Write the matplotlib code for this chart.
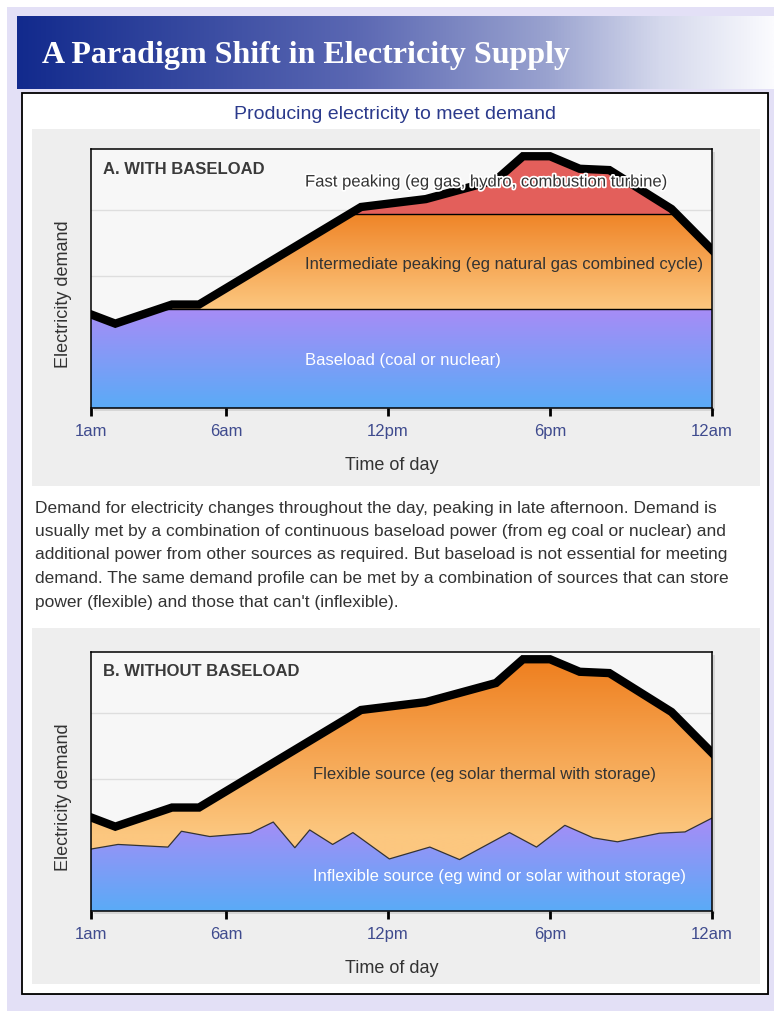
import numpy as np
import matplotlib
matplotlib.use("Agg")
import matplotlib.pyplot as plt
import matplotlib.patheffects as pe
from matplotlib.colors import LinearSegmentedColormap
from matplotlib.patches import Rectangle

plt.rcParams["font.family"] = ["Liberation Sans", "DejaVu Sans"]

W, H = 774, 1012

# ── data (hours: 1 = 1am ... 24 = midnight) ─────────────────────────────────
hours = [1, 1.9, 4, 5, 11, 13.4, 16, 17, 18, 19.1, 20.2, 22.5, 24]
demand = [1.42, 1.28, 1.57, 1.57, 3.05, 3.17, 3.46, 3.82, 3.82, 3.63, 3.61, 3.02, 2.40]
baseload_level = 1.5
intermediate_cap = 2.95

inflex_hours = [1.0, 2.0, 3.85, 4.35, 5.4, 6.9, 7.75, 8.55, 9.1, 9.95, 10.7,
                12.05, 13.55, 14.65, 16.5, 17.5, 18.55, 19.6, 20.5, 22.05, 23.0, 24.0]
inflexible = [0.94, 1.01, 0.97, 1.21, 1.13, 1.18, 1.35, 0.96, 1.23, 1.01, 1.19,
              0.79, 0.97, 0.78, 1.19, 0.97, 1.30, 1.11, 1.05, 1.18, 1.20, 1.41]

tick_hours = [1, 6, 12, 18, 24]
tick_labels = ["1am", "6am", "12pm", "6pm", "12am"]

paragraph = [
    "Demand for electricity changes throughout the day, peaking in late afternoon. Demand is",
    "usually met by a combination of continuous baseload power (from eg coal or nuclear) and",
    "additional power from other sources as required. But baseload is not essential for meeting",
    "demand. The same demand profile can be met by a combination of sources that can store",
    "power (flexible) and those that can't (inflexible).",
]

TEXT = "#333333"
TICKC = "#3f4b8e"
BLUE_TOP, BLUE_BOT = "#a78cf7", "#5aabf6"
ORANGE_TOP, ORANGE_BOT = "#ef8427", "#fcc77f"
RED = "#e35f5b"


def rect(l, t, r, b):
    return [l / W, 1 - b / H, (r - l) / W, (b - t) / H]


def gradient(ax, y0, y1, colors, clip, z):
    # colors: list of (position, colour) from bottom (0) to top (1)
    cmap = LinearSegmentedColormap.from_list("g", colors)
    grad = np.linspace(0, 1, 256).reshape(-1, 1)
    im = ax.imshow(grad, extent=[1, 24, y0, y1], origin="lower", cmap=cmap,
                   aspect="auto", interpolation="bilinear", zorder=z)
    im.set_clip_path(clip, ax.transData)
    return im


fig = plt.figure(figsize=(W / 100, H / 100), dpi=100)
fig.patch.set_facecolor("white")

# ── page decoration in pixel coordinates ────────────────────────────────────
bg = fig.add_axes([0, 0, 1, 1], zorder=-10)
bg.set_xlim(0, W)
bg.set_ylim(H, 0)
bg.axis("off")
bg.add_patch(Rectangle((7, 8), W - 7, H - 8, facecolor="#e3e0f6", edgecolor="none"))

banner_cmap = LinearSegmentedColormap.from_list(
    "banner", [(0, "#122a8d"), (0.45, "#5b68b3"), (0.7, "#99a2cf"),
               (0.85, "#d4d8ec"), (1, "#fbfbfe")])
bg.imshow(np.linspace(0, 1, 512).reshape(1, -1), extent=[17, W, 90, 17],
          cmap=banner_cmap, aspect="auto", zorder=1)
bg.text(42, 63, "A Paradigm Shift in Electricity Supply", color="white",
        fontsize=23, fontweight="bold", family="Liberation Serif", va="baseline", zorder=2)

bg.add_patch(Rectangle((23, 95), 746, 901, facecolor="#999999", edgecolor="none", zorder=1))
bg.add_patch(Rectangle((22, 94), 746, 901, facecolor="white", edgecolor="black",
                       linewidth=1.3, zorder=2))
bg.text(395, 114, "Producing electricity to meet demand", color="#2b3a8c",
        fontsize=14, ha="center", va="center", zorder=3)
for top, bot in [(130, 487), (629, 985)]:
    bg.add_patch(Rectangle((32, top), 728, bot - top, facecolor="#eeeeee",
                           edgecolor="none", zorder=3))
for i, line in enumerate(paragraph):
    bg.text(35, 508 + i * 23.5, line, color=TEXT, fontsize=12.5, va="center", zorder=3)

# axes drop shadows
for top in (150, 653):
    bg.add_patch(Rectangle((94, top + 3), 621, 259, facecolor="#d6d6d6",
                           edgecolor="none", zorder=4))


def setup_axes(top):
    ax = fig.add_axes(rect(91, top, 712, top + 259))
    ax.set_facecolor("#f7f7f7")
    ax.set_yticks([1, 2, 3])
    ax.yaxis.grid(True, color="#dedede", linewidth=1)
    ax.set_axisbelow(True)
    ax.tick_params(axis="y", length=0, labelleft=False)
    ax.set_xticks(tick_hours)
    ax.set_xticklabels(tick_labels)
    ax.tick_params(axis="x", length=6, width=2, color="black", pad=5,
                   labelsize=12, labelcolor=TICKC)
    for s in ax.spines.values():
        s.set_linewidth(1.1)
        s.set_zorder(6)
    return ax


# ── A. with baseload ────────────────────────────────────────────────────────
axA = setup_axes(150)
polyA = axA.fill_between(hours, 0, demand, facecolor="none", edgecolor="none")
clipA = polyA.get_paths()[0]
gradient(axA, 0, baseload_level, [BLUE_BOT, BLUE_TOP], clipA, 1)
gradient(axA, baseload_level, intermediate_cap, [ORANGE_BOT, ORANGE_TOP], clipA, 1)
dem = np.array(demand)
axA.fill_between(hours, intermediate_cap, dem, where=dem > intermediate_cap,
                 interpolate=True, color=RED, linewidth=0, zorder=2)
for lvl in (baseload_level, intermediate_cap):
    ln, = axA.plot([1, 24], [lvl, lvl], color="black", linewidth=1, zorder=3)
    ln.set_clip_path(clipA, axA.transData)
axA.plot(hours, demand, color="black", linewidth=6, solid_joinstyle="miter", zorder=5)
axA.set_xlim(1, 24)
axA.set_ylim(0, 3.93)

# ── B. without baseload ─────────────────────────────────────────────────────
axB = setup_axes(653)
polyB = axB.fill_between(hours, 0, demand, facecolor="none", edgecolor="none")
clipB = polyB.get_paths()[0]
gradient(axB, 0, 3.9, [(0, ORANGE_BOT), (0.3, ORANGE_BOT), (1, "#ee7c1b")], clipB, 1)
polyI = axB.fill_between(inflex_hours, 0, inflexible, facecolor="none", edgecolor="none")
clipI = polyI.get_paths()[0]
gradient(axB, 0, 1.4, [BLUE_BOT, BLUE_TOP], clipI, 2)
axB.plot(inflex_hours, inflexible, color="#333333", linewidth=0.9, zorder=3)
axB.plot(hours, demand, color="black", linewidth=6, solid_joinstyle="miter", zorder=5)
axB.set_xlim(1, 24)
axB.set_ylim(0, 3.93)

# ── labels ──────────────────────────────────────────────────────────────────
halo = [pe.withStroke(linewidth=2.5, foreground="white")]
for top, title in [(150, "A. WITH BASELOAD"), (653, "B. WITHOUT BASELOAD")]:
    fig.text(103 / W, 1 - (top + 19) / H, title, color="#3a3a3a", fontsize=12,
             fontweight="bold", va="center")
    fig.text(392 / W, 1 - (top + 316) / H, "Time of day", color=TEXT,
             fontsize=13, ha="center", va="center")
    fig.text(63 / W, 1 - (top + 144) / H, "Electricity demand", color=TEXT,
             fontsize=13, rotation=90, ha="center", va="center")

fig.text(305 / W, 1 - 183 / H, "Fast peaking (eg gas, hydro, combustion turbine)",
         color=TEXT, fontsize=12, va="center", path_effects=halo, zorder=10)
fig.text(305 / W, 1 - 265 / H, "Intermediate peaking (eg natural gas combined cycle)",
         color=TEXT, fontsize=12, va="center", zorder=10)
fig.text(305 / W, 1 - 361 / H, "Baseload (coal or nuclear)",
         color="white", fontsize=12, va="center", zorder=10)
fig.text(313 / W, 1 - 774 / H, "Flexible source (eg solar thermal with storage)",
         color=TEXT, fontsize=12, va="center", zorder=10)
fig.text(313 / W, 1 - 877 / H, "Inflexible source (eg wind or solar without storage)",
         color="white", fontsize=12, va="center", zorder=10)

fig.savefig("out.png", dpi=100)
